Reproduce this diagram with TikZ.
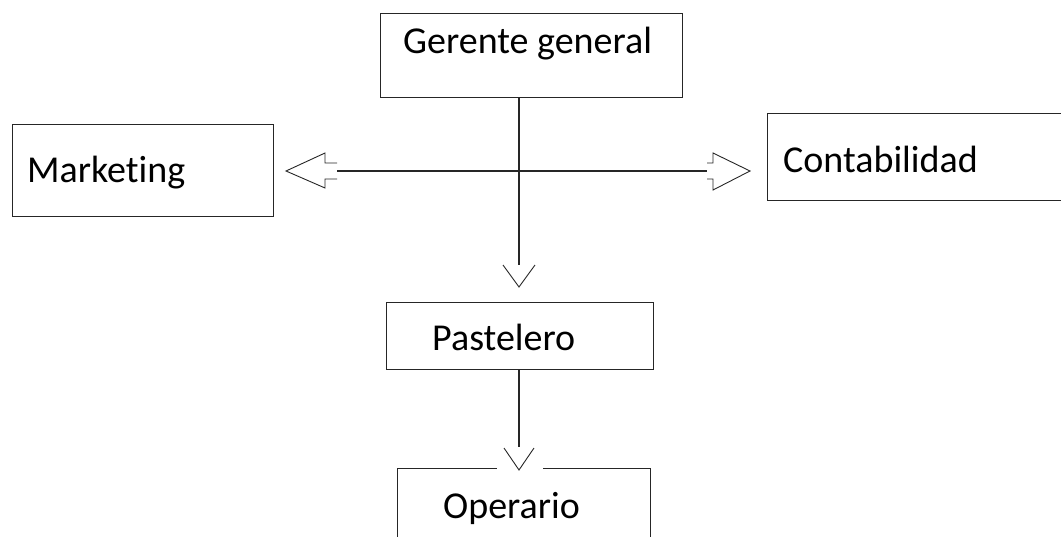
\documentclass[tikz,border=0pt]{standalone}
\usepackage{fontspec}
\setmainfont{Carlito}[Ligatures=NoCommon]
\begin{document}
\begin{tikzpicture}[x=1pt,y=-1pt,
 box/.style={draw=black!85,line width=1.3pt,rectangle,inner sep=0pt,anchor=north west},
 lbl/.style={anchor=base west,inner sep=0pt,font=\fontsize{38}{40}\selectfont},
 conn/.style={line width=1.1pt,black!85},
 head/.style={line width=0.9pt,black!85,line join=miter}]
\useasboundingbox (0,0) rectangle (1061,536);
\clip (0,0) rectangle (1061,536);
% boxes
\node[box,minimum width=302pt,minimum height=84pt] (gg) at (380,13) {};
\node[box,minimum width=261pt,minimum height=92pt] (mk) at (12,124) {};
\node[box,minimum width=310pt,minimum height=87pt] (ct) at (767,113) {};
\node[box,minimum width=267pt,minimum height=67pt] (ps) at (386,302) {};
\node[box,minimum width=253pt,minimum height=100pt] (op) at (397,468) {};
% labels
\node[lbl] (tgg) at (403,53) {Gerente general};
\node[lbl] (tmk) at (27,182) {Marketing};
\node[lbl] (tct) at (783,172) {Contabilidad};
\node[lbl] (tps) at (432,350) {Pastelero};
\node[lbl] (top) at (443,518) {Operario};
% vertical connector 1
\coordinate (a1) at (519,265);
\draw[conn] (gg.south -| a1) -- (a1);
\draw[head] (503,265) -- (519,287) -- (535,265);
% horizontal double arrow
\coordinate (l1) at (337,171);
\coordinate (r1) at (707,171);
\draw[conn] (l1) -- (r1);
\draw[head] (337,163) -- (325,163) -- (325,153) -- (286,171) -- (325,188) -- (325,179) -- (337,179);
\draw[head] (707,163) -- (713,163) -- (713,153) -- (750,171) -- (713,190) -- (713,179) -- (707,179);
% vertical connector 2
\coordinate (a2) at (519,447);
\draw[conn] (ps.south -| a2) -- (a2);
\fill[white] (497,462) rectangle (543,475);
\draw[head] (504,448) -- (519,470) -- (534,448);
\end{tikzpicture}
\end{document}
